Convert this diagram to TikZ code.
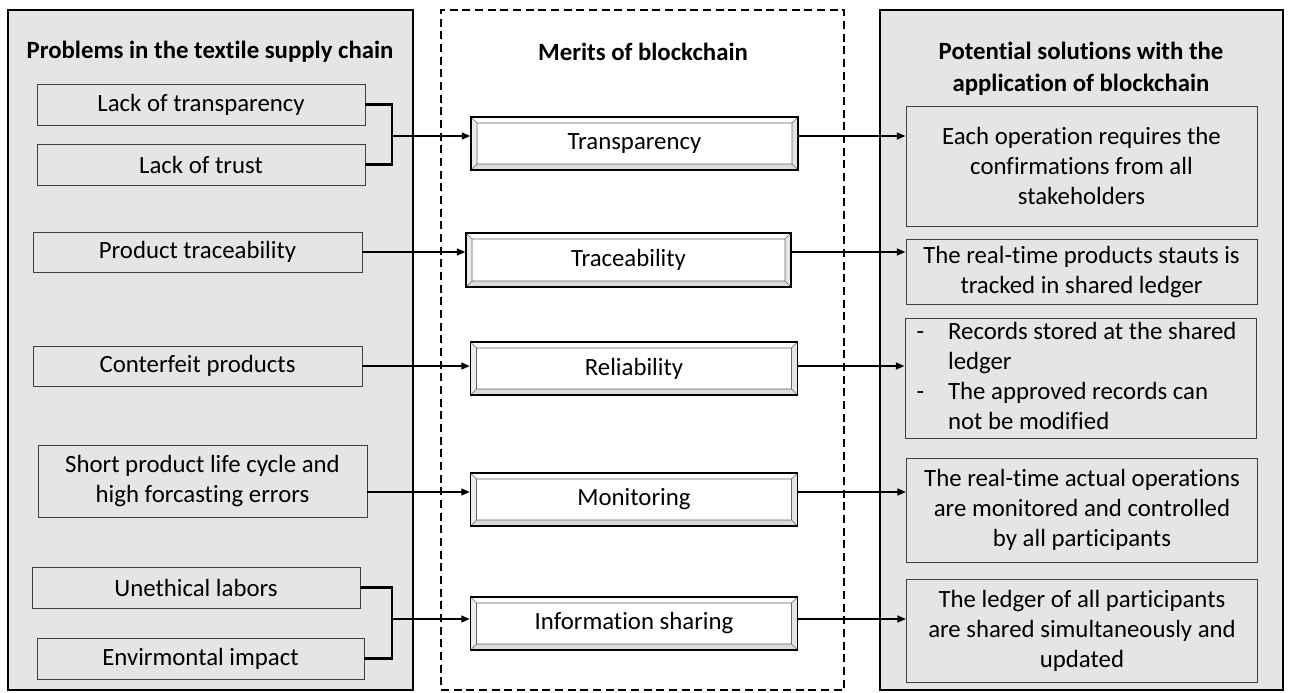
\documentclass[tikz,border=0pt]{standalone}
\usepackage{fontspec}
\setmainfont{Carlito}[Ligatures=NoCommon]
\usetikzlibrary{arrows.meta}

\begin{document}
\begin{tikzpicture}[x=0.75pt, y=-0.75pt,
	panel/.style={draw, line width=1.6pt, fill=black!10, inner sep=0pt, minimum width=303.75pt, minimum height=510pt},
	head/.style={font=\bfseries\fontsize{18.6}{24}\selectfont, align=center, inner sep=0pt},
	prob/.style={draw=black!75, line width=0.6pt, fill=black!10, inner sep=0pt, minimum width=246pt, minimum height=30.75pt, font=\fontsize{18.6}{22.5}\selectfont, align=center},
	sol/.style={prob, minimum width=263.25pt},
	merit/.style={draw, line width=0.8pt, fill=white, inner sep=0pt, minimum width=245.25pt, minimum height=39.75pt, font=\fontsize{18.6}{22.5}\selectfont,
		path picture={
			\coordinate (bnw) at (path picture bounding box.north west);
			\coordinate (bse) at (path picture bounding box.south east);
			\coordinate (bne) at (bse |- bnw);
			\coordinate (bsw) at (bnw |- bse);
			\coordinate (inw) at ([shift={(4.5pt,-4.5pt)}]bnw);
			\coordinate (ise) at ([shift={(-4.5pt,4.5pt)}]bse);
			\coordinate (ine) at (ise |- inw);
			\coordinate (isw) at (inw |- ise);
			\fill[black!7] (bnw) -- (inw) -- (isw) -- (bsw) -- cycle;
			\fill[black!14] (bsw) -- (isw) -- (ise) -- (bse) -- cycle;
			\fill[black!10] (bse) -- (ise) -- (ine) -- (bne) -- cycle;
			\draw[black!60, line width=0.5pt] (inw) rectangle (ise) (bnw) -- (inw) (bne) -- (ine) (bsw) -- (isw) (bse) -- (ise);
		}},
	link/.style={line width=1.6pt},
	arr/.style={line width=1.6pt, -{Triangle[length=6.5pt, width=5pt]}}]
				\useasboundingbox (0,0) rectangle (1290,693);
				
				\node[panel] (probs) at (210.5,350) {};
				\node[panel, fill=none, line width=1.5pt, dash pattern=on 6pt off 3.5pt, minimum width=302.25pt] (merits) at (642.5,350) {};
				\node[panel, minimum width=302.25pt] (sols) at (1081.5,350) {};
				
				\node[head] (probhead) at (210,52) {Problems in the textile supply chain};
				\node[head] (merithead) at (643,52) {Merits of blockchain};
				\node[head] (solhead) at (1081,69) {Potential solutions with the\\application of blockchain};
				
				\node[prob] (lacktr) at (201,104.5) {Lack of transparency};
				\node[prob] (lacktru) at (201,164.5) {Lack of trust};
				\node[prob, minimum width=246.75pt, minimum height=30pt] (prodtr) at (197.5,252) {Product traceability};
				\node[prob, minimum width=246.75pt, minimum height=30pt] (counter) at (197.5,366) {Conterfeit products};
				\node[prob, minimum width=246.75pt, minimum height=54pt] (shortlc) at (202.5,481) {Short product life cycle and\\high forcasting errors};
				\node[prob] (unethic) at (196,587.5) {Unethical labors};
				\node[prob, minimum width=245.25pt] (envir) at (200.5,658.5) {Envirmontal impact};
				
				\node[merit] (transp) at (634.5,143.5) {Transparency};
				\node[merit, minimum width=243.75pt, minimum height=40.5pt] (tracea) at (628.5,260) {Traceability};
				\node[merit] (relia) at (634,368.5) {Reliability};
				\node[merit] (monit) at (634,499.5) {Monitoring};
				\node[merit] (infosh) at (634,623.5) {Information sharing};
				
				\node[sol, minimum height=90pt] (confirm) at (1081.5,166) {Each operation requires the\\confirmations from all\\stakeholders};
				\node[sol, minimum height=48.75pt] (tracked) at (1081.5,272) {The real-time products stauts is\\tracked in shared ledger};
				\node[sol, minimum height=90pt] (records) at (1080.5,378) {\begin{tabular}{@{}l@{\hspace{18pt}}l@{}}
					-&Records stored at the shared\\
					&ledger\\
					-&The approved records can\\
					&not be modified
				\end{tabular}\hspace{6pt}};
				\node[sol, minimum height=78pt] (control) at (1082,510) {The real-time actual operations\\are monitored and controlled\\by all participants};
				\node[sol, minimum height=77.25pt] (shared) at (1082,630.5) {The ledger of all participants\\are shared simultaneously and\\updated};
				
				\coordinate (jtop) at (392,136);
				\coordinate (jbot) at (392,619);
				\coordinate (monrow) at (shortlc.east |- 0,492);
				
				\draw[link] (lacktr.east) -| (jtop) |- (lacktru.east);
				\draw[link] (unethic.east) -| (jbot) |- (envir.east);
				
				\draw[arr] (jtop) -- (jtop -| transp.west);
				\draw[arr] (prodtr.east) -- (prodtr.east -| tracea.west);
				\draw[arr] (counter.east) -- (counter.east -| relia.west);
				\draw[arr] (monrow) -- (monrow -| monit.west);
				\draw[arr] (jbot) -- (jbot -| infosh.west);
				
				\draw[arr] (transp.east |- jtop) -- (jtop -| confirm.west);
				\draw[arr] (tracea.east |- prodtr.east) -- (prodtr.east -| tracked.west);
				\draw[arr] (relia.east |- counter.east) -- (counter.east -| records.west);
				\draw[arr] (monit.east |- monrow) -- (monrow -| control.west);
				\draw[arr] (infosh.east |- jbot) -- (jbot -| shared.west);
\end{tikzpicture}
\end{document}
